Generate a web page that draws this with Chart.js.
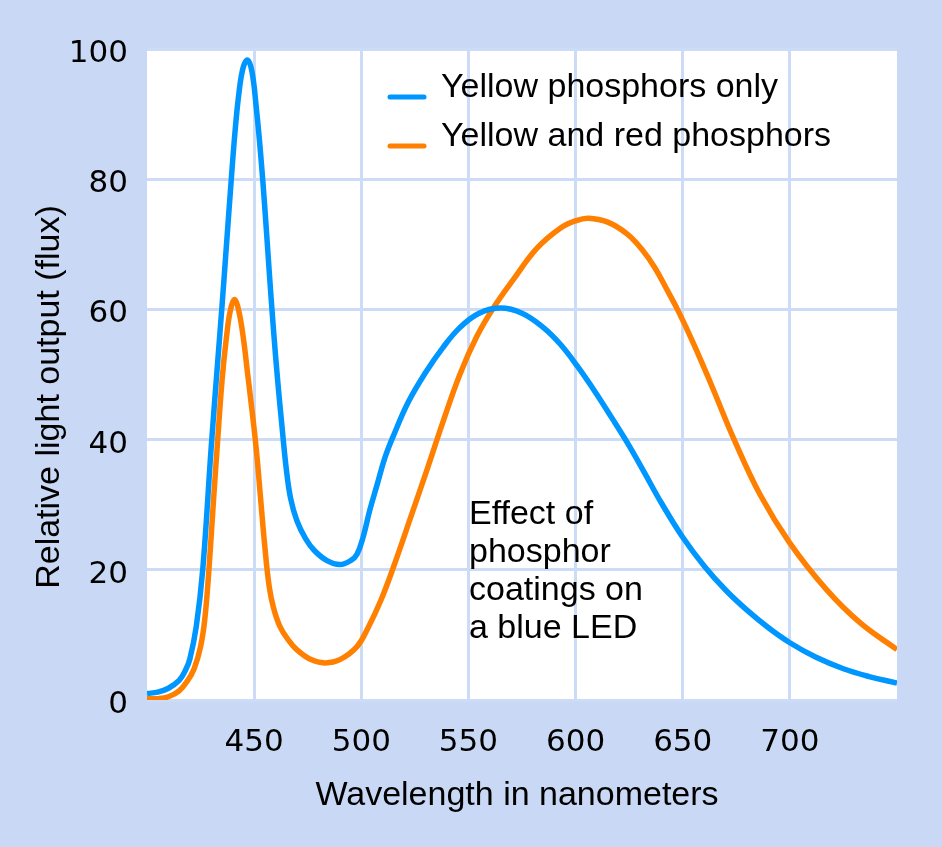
<!DOCTYPE html>
<html>
<head>
<meta charset="utf-8">
<script src="https://cdn.jsdelivr.net/npm/chart.js@4"></script>
<style>
  html, body { margin: 0; padding: 0; background: #c9d9f5; }
  #grafico { display: block; }
</style>
</head>
<body>
<canvas id="grafico" width="942" height="847"></canvas>
<script>
// Dados (comprimento de onda em nm, fluxo relativo)
const azulNm = [400, 405, 410, 415, 418, 420, 423, 426, 430, 433, 435, 437, 439, 441, 443, 445, 447, 449, 451, 453, 455, 457, 459, 461, 463, 465, 467, 470, 474, 478, 484, 490, 495, 498, 501, 504, 507.5, 511, 515, 522, 530, 538, 546, 555, 565, 575, 585, 593, 601, 609, 617, 624, 632, 640, 650, 660, 670, 680, 690, 700, 712, 725, 737, 750];
const azulFluxo = [1.0, 1.2, 1.8, 3.0, 4.6, 6.3, 11.3, 20, 39, 52, 60.5, 69.5, 78.5, 87, 93.5, 97.3, 98.3, 96.5, 91, 84, 75.5, 66, 57, 49, 42, 35.5, 31, 27.5, 24.8, 23, 21.4, 20.8, 21.4, 22.4, 25.2, 29.2, 33.2, 37.2, 40.6, 45.8, 50.3, 54.1, 57.2, 59.4, 60.2, 59.4, 57.2, 54.6, 51.2, 47.4, 43.3, 39.6, 35, 30.3, 25, 20.6, 16.9, 13.8, 11.1, 8.8, 6.6, 4.8, 3.6, 2.6];

const laranjaNm = [400, 405, 410, 415, 419, 422, 425, 427, 429, 431, 433, 435, 437, 439, 441, 443, 445, 447, 449, 451, 453, 455, 457, 459, 462, 466, 470, 476, 483, 490, 498, 503, 509, 515, 523, 531, 538, 546, 554, 562, 571, 582, 593, 600, 606, 615, 624, 631, 637, 643, 648, 655, 663, 674, 686, 700, 717, 733, 750];
const laranjaFluxo = [0.2, 0.2, 0.5, 1.4, 3.0, 4.8, 8.2, 12.5, 20.5, 30.5, 40, 49, 55.5, 60, 61.5, 59.5, 55.5, 50, 44.5, 38.5, 31, 23.5, 17.5, 14.2, 11.3, 9.2, 7.7, 6.3, 5.7, 6.2, 8.2, 11, 15.2, 20.4, 28, 35.7, 42.6, 50, 55.9, 60.4, 64.6, 69.4, 72.5, 73.6, 74, 73.4, 71.6, 69.2, 66.4, 62.8, 59.7, 54.8, 48.7, 40, 31.6, 24.1, 17, 11.8, 7.75];

const ticksX = [450, 500, 550, 600, 650, 700];
const ticksY = [0, 20, 40, 60, 80, 100];

const nomesSeries = ["Yellow phosphors only", "Yellow and red phosphors"];
const notaLinhas = ["Effect of", "phosphor", "coatings on", "a blue LED"];

const corFundo = "#c9d9f5";
const corGrade = "#cddcf6";
const corAzul = "#0096ff";
const corLaranja = "#ff8000";
const fonteTexto = "'Liberation Sans', Arial, sans-serif";
const fonteTicks = "'DejaVu Sans', sans-serif";

function pares(xs, ys) {
  return xs.map((x, i) => ({ x: x, y: ys[i] }));
}

const plugFundo = {
  id: "fundo",
  beforeDraw(chart) {
    const { ctx, chartArea: a } = chart;
    ctx.save();
    ctx.fillStyle = corFundo;
    ctx.fillRect(0, 0, chart.width, chart.height);
    ctx.fillStyle = "#ffffff";
    ctx.fillRect(a.left, a.top, a.right - a.left, a.bottom - a.top);
    ctx.restore();
  },
  afterDraw(chart) {
    const ctx = chart.ctx;
    ctx.save();
    ctx.fillStyle = "#000";
    ctx.font = "34px " + fonteTexto;
    ctx.textBaseline = "alphabetic";

    // legenda
    const cores = [corAzul, corLaranja];
    [97, 146].forEach((y, i) => {
      ctx.strokeStyle = cores[i];
      ctx.lineWidth = 5;
      ctx.lineCap = "round";
      ctx.beginPath();
      ctx.moveTo(390, y);
      ctx.lineTo(424, y);
      ctx.stroke();
      ctx.textAlign = "left";
      ctx.fillText(nomesSeries[i], 441, y);
    });

    // nota
    notaLinhas.forEach((t, i) => {
      ctx.fillText(t, 469, 524 + i * 38);
    });

    // títulos dos eixos
    ctx.textAlign = "center";
    ctx.fillText("Wavelength in nanometers", 517, 805);
    ctx.translate(59, 397);
    ctx.rotate(-Math.PI / 2);
    ctx.fillText("Relative light output (flux)", 0, 0);
    ctx.restore();
  }
};

const ctx = document.getElementById("grafico").getContext("2d");
const grafico = new Chart(ctx, {
  type: "line",
  data: {
    datasets: [
      {
        label: nomesSeries[0],
        data: pares(azulNm, azulFluxo),
        borderColor: corAzul,
        borderWidth: 5.5,
        pointRadius: 0,
        tension: 0.4,
        fill: false
      },
      {
        label: nomesSeries[1],
        data: pares(laranjaNm, laranjaFluxo),
        borderColor: corLaranja,
        borderWidth: 5.5,
        pointRadius: 0,
        tension: 0.4,
        fill: false
      }
    ]
  },
  options: {
    responsive: false,
    animation: false,
    devicePixelRatio: 1,
    layout: { padding: { top: 49, right: 45, left: 0, bottom: 0 } },
    plugins: {
      legend: { display: false },
      tooltip: { enabled: false }
    },
    scales: {
      x: {
        type: "linear",
        min: 400,
        max: 750,
        afterBuildTicks: s => { s.ticks = ticksX.map(v => ({ value: v })); },
        afterFit: s => { s.height = 147; },
        border: { display: false },
        grid: { color: corGrade, lineWidth: 3, drawTicks: false },
        ticks: {
          padding: 24,
          color: "#000",
          font: { family: fonteTicks, size: 31 }
        }
      },
      y: {
        min: 0,
        max: 100,
        afterBuildTicks: s => { s.ticks = ticksY.map(v => ({ value: v })); },
        afterFit: s => { s.width = 147; },
        border: { display: false },
        grid: { color: corGrade, lineWidth: 3, drawTicks: false },
        ticks: {
          padding: 19,
          labelOffset: 5,
          color: "#000",
          font: { family: fonteTicks, size: 31 }
        }
      }
    }
  },
  plugins: [plugFundo]
});
</script>
</body>
</html>
